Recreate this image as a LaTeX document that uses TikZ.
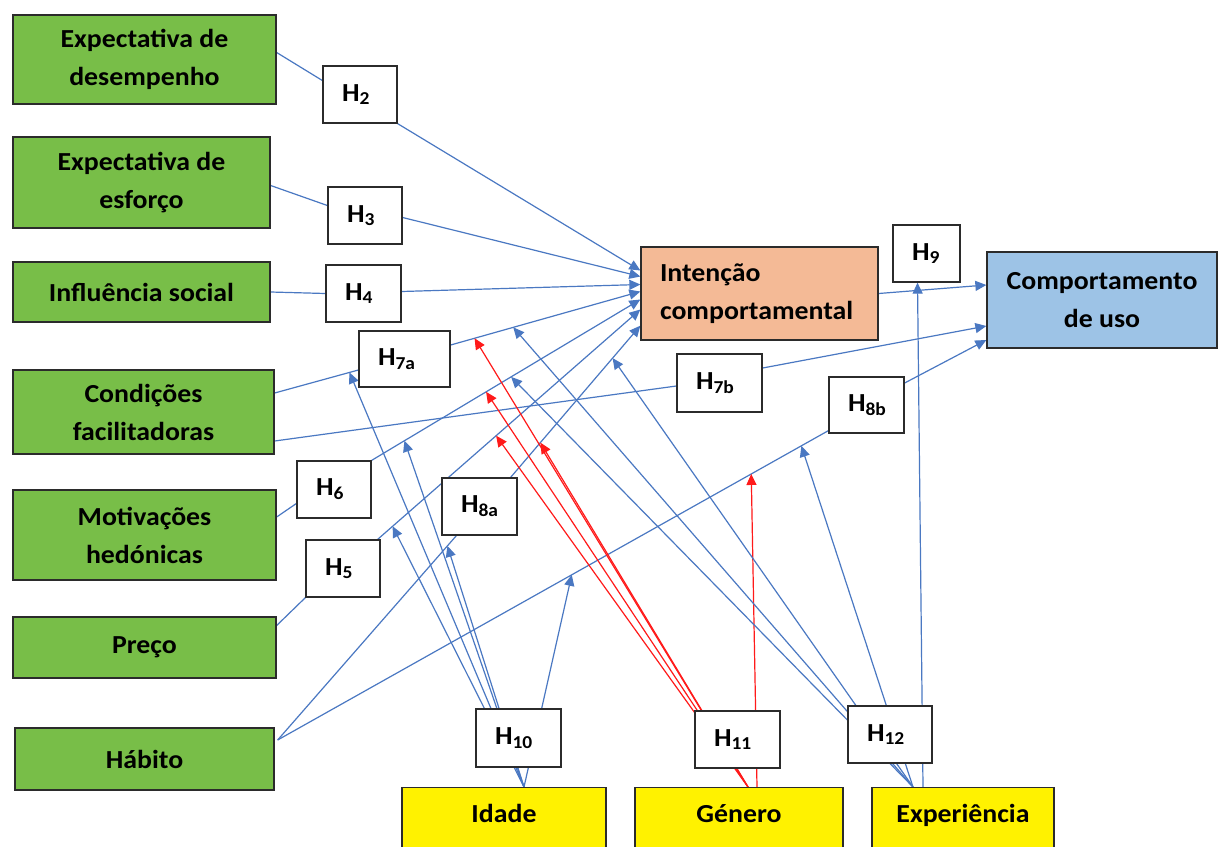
\documentclass[tikz,border=0pt]{standalone}
\usepackage{fontspec}
\setmainfont{Carlito}[FakeStretch=1.07]
\usetikzlibrary{arrows.meta,calc}
\pgfdeclarelayer{paper}
\pgfdeclarelayer{wires}
\pgfsetlayers{paper,wires,main}
\definecolor{leaf}{HTML}{78BE48}
\definecolor{peach}{HTML}{F4BA96}
\definecolor{sky}{HTML}{9DC3E6}
\definecolor{lineblue}{HTML}{4A78C2}
\definecolor{linered}{HTML}{FF1A1A}
\definecolor{boxline}{HTML}{2B2B2B}
\newcommand\lblfont{\fontsize{26}{38}\selectfont\bfseries}
\newcommand\hypfont{\fontsize{26}{30}\selectfont\bfseries}
\begin{document}
\begin{tikzpicture}[x=1pt,y=-1pt,
  every node/.style={inner sep=0pt, text=black},
  factor/.style 2 args={draw=boxline, line width=1.3pt, fill=leaf,
    minimum width=#1, minimum height=#2, font=\lblfont, align=center},
  outcome/.style={draw=boxline, line width=1.3pt, font=\lblfont},
  hyp/.style n args={3}{draw=boxline, line width=1.3pt, fill=white,
    minimum width=#1, minimum height=#2, text width=#3, align=left, font=\hypfont},
  moder/.style={draw=boxline, line width=1.3pt, fill=yellow, anchor=north,
    minimum width=#1, minimum height=70pt, text height=20pt, text depth=20pt,
    font=\lblfont, align=center},
  link/.style={draw=lineblue, line width=1.2pt},
  redlink/.style={draw=linered, line width=1.2pt},
  pointed/.style={-{Triangle[length=11pt,width=10pt]}}]

\useasboundingbox (0,0) rectangle (1223,846);
\begin{pgfonlayer}{paper}
  \fill[white] (0,0) rectangle (1223,846);
\end{pgfonlayer}

% determinants
\node[factor={263pt}{89pt}] (g1) at (144.5,59.5) {Expectativa de\\desempenho};
\node[factor={257pt}{91pt}] (g2) at (141.5,182.5) {Expectativa de\\esforço};
\node[factor={257pt}{60pt}] (g3) at (141.5,292) {Influência social};
\node[factor={261pt}{84pt}] (g4) at (143.5,412) {Condições\\facilitadoras};
\node[factor={263pt}{90pt}] (g5) at (144.5,535) {Motivações\\hedónicas};
\node[factor={263pt}{61pt}] (g6) at (144.5,647.5) {Preço};
\node[factor={259pt}{62pt}] (g7) at (144.5,759) {Hábito};

% outcomes
\node[outcome, fill=peach, minimum width=237pt, minimum height=93pt,
      text width=199pt, align=left] (int) at (759.5,293.5) {Intenção\\comportamental};
\node[outcome, fill=sky, minimum width=230pt, minimum height=96pt,
      align=center] (comp) at (1102,300) {Comportamento\\de uso};

% moderators
\node[moder=204pt] (idade) at (504,787) {Idade};
\node[moder=208pt] (genero) at (739,787) {Género};
\node[moder=182pt] (exper) at (963,787) {Experiência};

% hypotheses
\node[hyp={74pt}{57pt}{36pt}] (h2) at (360,94.5) {H\textsubscript{2}};
\node[hyp={74pt}{57pt}{36pt}] (h3) at (365,215.5) {H\textsubscript{3}};
\node[hyp={75pt}{57pt}{37pt}] (h4) at (363.5,293.5) {H\textsubscript{4}};
\node[hyp={91pt}{56pt}{53pt}] (h7a) at (404.5,359) {H\textsubscript{7a}};
\node[hyp={74pt}{57pt}{36pt}] (h6) at (334,489.5) {H\textsubscript{6}};
\node[hyp={74pt}{57pt}{36pt}] (h5) at (343,568.5) {H\textsubscript{5}};
\node[hyp={75pt}{57pt}{37pt}] (h8a) at (479.5,506.5) {H\textsubscript{8a}};
\node[hyp={85pt}{58pt}{47pt}] (h7b) at (719.5,383) {H\textsubscript{7b}};
\node[hyp={75pt}{56pt}{37pt}] (h8b) at (866.5,405) {H\textsubscript{8b}};
\node[hyp={67pt}{57pt}{29pt}] (h9) at (926.5,253.5) {H\textsubscript{9}};
\node[hyp={85pt}{58pt}{47pt}] (h10) at (518.5,738) {H\textsubscript{10}};
\node[hyp={85pt}{57pt}{47pt}] (h11) at (737.5,739.5) {H\textsubscript{11}};
\node[hyp={84pt}{57pt}{46pt}] (h12) at (890,734.5) {H\textsubscript{12}};

% end points of the paths that carry moderating effects
\coordinate (a7s) at ($(g4.east)+(0,-19)$);
\coordinate (a7e) at ($(h7a.west)+(0,11)$);
\coordinate (b7s) at ($(h7a.east)+(0,-14)$);
\coordinate (b7e) at ($(int.west)+(0,-2)$);
\coordinate (b6s) at (h6.north east);
\coordinate (b6e) at ($(int.west)+(0,6)$);
\coordinate (b5s) at ($(h5.north east)+(-3,0)$);
\coordinate (b5e) at ($(int.west)+(0,16)$);
\coordinate (hab) at ($(g7.east)+(3,-19)$);
\coordinate (a8e) at ($(h8a.south west)+(15,0)$);
\coordinate (b8s) at ($(h8a.north east)+(-7,0)$);
\coordinate (b8e) at ($(int.south west)+(0,-15)$);
\coordinate (c8e) at ($(h8b.south west)+(0,-3)$);

% where the moderating arrows meet those paths
\coordinate (m10a) at ($(a7s)!0.894!(a7e)$);
\coordinate (m10b) at ($(b6s)!0.122!(b6e)$);
\coordinate (m10c) at ($(b5s)!0.057!(b5e)$);
\coordinate (m10d) at ($(hab)!0.95!(a8e)$);
\coordinate (m10e) at ($(hab)!0.534!(c8e)$);
\coordinate (m11a) at ($(b7s)!0.126!(b7e)$);
\coordinate (m11b) at ($(b6s)!0.426!(b6e)$);
\coordinate (m11c) at ($(b5s)!0.451!(b5e)$);
\coordinate (m11d) at ($(b8s)!0.229!(b8e)$);
\coordinate (m11e) at ($(hab)!0.860!(c8e)$);
\coordinate (m12a) at ($(b7s)!0.33!(b7e)$);
\coordinate (m12b) at ($(b6s)!0.519!(b6e)$);
\coordinate (m12c) at ($(b8s)!0.786!(b8e)$);
\coordinate (m12d) at ($(hab)!0.951!(c8e)$);

\coordinate (s10) at ($(idade.north)+(20,0)$);
\coordinate (s11) at ($(genero.north)+(9,0)$);
\coordinate (s11v) at ($(genero.north)+(18,0)$);
\coordinate (s12) at ($(exper.north)+(-50,0)$);
\coordinate (s12v) at ($(exper.north)+(-40,0)$);

\begin{pgfonlayer}{wires}
  % direct effects
  \draw[link] ($(g1.east)+(0,-7)$) -- ($(h2.west)+(0,-14)$);
  \draw[link,pointed] (h2.south east) -- ($(int.west)+(0,-23)$);
  \draw[link] ($(g2.east)+(0,3)$) -- ($(h3.west)+(0,-10)$);
  \draw[link,pointed] ($(h3.east)+(0,2)$) -- ($(int.west)+(0,-17)$);
  \draw[link] (g3.east) -- (h4.west);
  \draw[link,pointed] ($(h4.east)+(0,-2)$) -- ($(int.west)+(0,-9)$);
  \draw[link] (a7s) -- (a7e);
  \draw[link,pointed] (b7s) -- (b7e);
  \draw[link] ($(g4.east)+(0,29)$) -- ($(h7b.west)+(0,3)$);
  \draw[link,pointed] ($(h7b.east)+(0,-15)$) -- ($(comp.west)+(0,26)$);
  \draw[link,pointed] (int.east) -- ($(comp.west)+(0,-15)$);
  \draw[link,pointed] ($(h8b.east)+(0,-22)$) -- ($(comp.west)+(0,40)$);
  \draw[link] ($(g5.east)+(0,-18)$) -- ($(h6.west)+(0,14)$);
  \draw[link,pointed] (b6s) -- (b6e);
  \draw[link] ($(g6.east)+(0,-22)$) -- (h5.south west);
  \draw[link,pointed] (b5s) -- (b5e);
  \draw[link] (hab) -- (a8e);
  \draw[link,pointed] (b8s) -- (b8e);
  \draw[link] (hab) -- (c8e);

  % age
  \foreach \t in {m10a,m10b,m10c,m10d,m10e}
    \draw[link,pointed] (s10) -- (\t);
  % gender
  \foreach \t in {m11a,m11b,m11c,m11d}
    \draw[redlink,pointed] (s11) -- (\t);
  \draw[redlink,pointed] (s11v) -- (m11e);
  % experience
  \foreach \t in {m12a,m12b,m12c,m12d}
    \draw[link,pointed] (s12) -- (\t);
  \draw[link,pointed] (s12v) -- ($(h9.south)+(-9,0)$);
\end{pgfonlayer}
\end{tikzpicture}
\end{document}
